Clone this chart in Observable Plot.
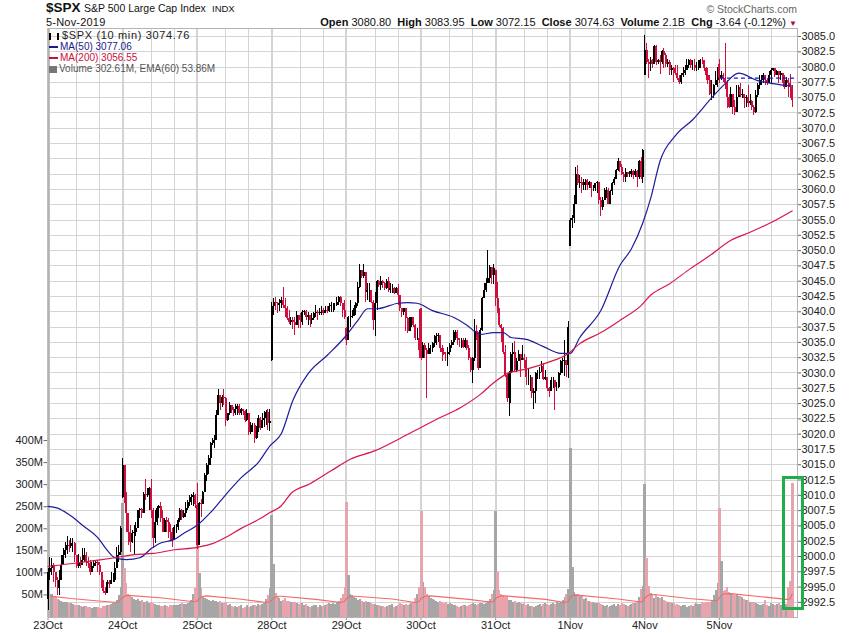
<!DOCTYPE html>
<html><head><meta charset="utf-8">
<script src="https://cdn.jsdelivr.net/npm/d3@7"></script>
<script src="https://cdn.jsdelivr.net/npm/@observablehq/plot@0.6"></script>
<style>
html,body{margin:0;padding:0;background:#fff}
#page{position:relative;width:850px;height:633px;overflow:hidden;font-family:"Liberation Sans",Arial,sans-serif;color:#111}
#head{position:relative;height:26px}
#head span{position:absolute;white-space:nowrap}
#plots{position:relative;width:850px;height:607px}
#plots svg{position:absolute;left:0;top:0}
#legend{position:absolute;left:49px;top:30px;font-size:10px;line-height:11px}
#legend i{display:inline-block;vertical-align:middle}
</style></head><body>
<div id="page">
<div id="head">
<span style="left:46px;top:0px;font-size:13.5px;font-weight:bold">$SPX</span>
<span style="left:84px;top:2px;font-size:10.5px">S&amp;P 500 Large Cap Index</span>
<span style="left:212px;top:3px;font-size:9.5px">INDX</span>
<span style="left:46px;top:16px;font-size:11px;letter-spacing:.2px">5-Nov-2019</span>
<span style="right:53px;top:3px;font-size:10.5px;color:#666">© StockCharts.com</span>
<span style="right:53px;top:16px;font-size:11px"><b>Open</b> 3080.80 &nbsp;<b>High</b> 3083.95 &nbsp;<b>Low</b> 3072.15 &nbsp;<b>Close</b> 3074.63 &nbsp;<b>Volume</b> 2.1B &nbsp;<b>Chg</b> -3.64 (-0.12%) <span style="position:static;color:#a01030;font-size:8px">▼</span></span>
</div>
<div id="plots"></div>
<div id="legend">
<div style="color:#222;font-size:11px;letter-spacing:.65px"><i style="width:10px;height:7px;border-left:2px solid #000;border-right:2px solid #000;box-sizing:border-box;margin-right:3px"></i>$SPX (10 min) 3074.76</div>
<div style="color:#1a1a8c"><i style="width:9px;height:2px;background:#1a1a8c;margin-right:2px"></i>MA(50) 3077.06</div>
<div style="color:#c8103c"><i style="width:9px;height:2px;background:#c8103c;margin-right:2px"></i>MA(200) 3056.55</div>
<div style="color:#555"><i style="width:8px;height:7px;background:#777;margin-right:2px"></i>Volume 302.61M, EMA(60) 53.86M</div>
</div>
</div>
<script>
const dayLabels = ["23Oct","24Oct","25Oct","28Oct","29Oct","30Oct","31Oct","1Nov","4Nov","5Nov"];
const dayOpens = [2993,3009.7,3008.3,3032,3037.2,3040.5,3046.8,3050.6,3078.6,3080.5];
const grayVolumeBars = [234];

const closes = [
[2997.4,2998,2998.5,2997.4,2996.1,2994.7,2996.1,2998.5,3000.2,3001,3001.8,3001.6,3002.1,3002.1,3000.2,2998.3,2999.1,2998.5,2999.3,3000.2,2999.1,2998.8,2997.4,2998.3,2998.8,2999.1,2998.5,2997.4,2995.5,2994.2,2993.9,2995.8,2995.5,2996.1,2996.1,2998,3000.2,3000.7,3004.5],
[3014.9,3010.5,3007,3004,3002.3,3003.7,3004,3004.5,3007.5,3007.7,3007,3010.2,3010,3010,3011.1,3007.5,3002.9,3005.6,3007.8,3008.1,3006.2,3004,3005.9,3005.6,3004.2,3004,3002.6,3004.8,3004.8,3005.9,3007.5,3006.4,3007,3007.8,3008.9,3009.2,3009.7,3010,3008.5],
[3001.8,3008.6,3008.5,3010.4,3013.2,3014.9,3016,3018.4,3018.4,3019,3023,3026.3,3025,3026,3025.8,3022.2,3023.3,3024.7,3023.9,3023.3,3024.1,3024.6,3023.3,3024.1,3023.7,3022.2,3023.3,3020.3,3021.4,3021.4,3019.3,3020.9,3022.5,3020.9,3022.2,3022.5,3023.6,3021.7,3022],
[3040.8,3041.6,3041.3,3041,3041.3,3041.8,3041,3040.5,3038.9,3038.3,3038.6,3038.3,3037.8,3039.4,3038.6,3038.3,3039.9,3040.1,3039.1,3039.4,3038.6,3038.9,3039.7,3039.9,3039.8,3039.9,3040.2,3039.8,3040.2,3040.1,3040.8,3041,3041,3041,3041.6,3042.3,3041.3,3040.2,3039.1],
[3035.3,3039.1,3039.1,3039.2,3040.5,3041.3,3044,3046.8,3045.7,3046.5,3043.2,3043.5,3043.5,3041.6,3038.6,3041.3,3044.9,3044.3,3044.9,3044.6,3043.8,3044.9,3043.5,3043.8,3043.8,3043,3043.8,3042.7,3040.5,3039.9,3040.5,3038.9,3036.7,3037.8,3039.1,3037.8,3035.6,3035.6,3033.7],
[3032.3,3034.5,3033.7,3033.1,3034,3034,3034.2,3034.8,3035.9,3036.1,3034,3033.4,3033.1,3033,3033.4,3034.5,3035,3036.4,3036.6,3035.6,3035.3,3035.3,3034.2,3035.3,3034,3032.3,3030.4,3032.3,3036.7,3036.4,3030.7,3036.9,3042.1,3043.5,3044.6,3045.4,3047.3,3045.9,3047],
[3042.1,3040,3037.8,3037.2,3033.4,3029.6,3025.8,3029.9,3033.1,3033.4,3030.4,3031.8,3033.1,3032,3032.3,3032,3029.3,3029.3,3029.3,3026.6,3026.9,3029.9,3029.9,3030.1,3031,3029,3029.3,3027.4,3026.9,3028.8,3028.8,3027.7,3027.7,3029.9,3031.8,3032,3032,3031.2,3037.5],
[3054.9,3055.2,3057.6,3062.5,3060.9,3061.2,3060.6,3061.2,3061.5,3060.6,3061.2,3060.1,3060.1,3060.9,3061.2,3058.2,3057.1,3058.2,3059.8,3059.8,3057.6,3059.6,3060.9,3061.7,3063.1,3064.5,3063.6,3062.5,3062,3062.8,3062.5,3062.5,3063,3062.3,3063,3062,3064.6,3061.9,3066.4],
[3082.7,3080.8,3080.5,3081.1,3080.5,3083.4,3080.8,3081.1,3080.8,3082.6,3081.9,3080.5,3080.8,3079.4,3079.7,3079.2,3079,3078.1,3077.5,3078.6,3078.9,3079.4,3080.3,3081,3080.3,3080.3,3079.7,3079.7,3079.7,3081.1,3081,3079.7,3078.6,3077.8,3075.6,3075.6,3077,3077.8,3079.4],
[3078.1,3078.6,3078.1,3077.3,3075.1,3073.4,3075.6,3073.4,3072.6,3075.1,3076.7,3075.4,3075.6,3074.8,3075.1,3074,3074.3,3073.4,3072.6,3075.3,3077,3077.8,3077.8,3078.6,3077.8,3077.3,3078.6,3079.4,3079.7,3078.6,3079.2,3078.6,3078.9,3077.8,3076.7,3077.8,3077.3,3076.7,3074.6]
];
const highs = [
[2998,2999.9,2999.6,2998.8,2997.4,2996.6,2997.7,3000.2,3001.3,3002.3,3003.2,3002.6,3002.9,3002.9,3002.3,3000.2,3000.4,2999.9,3001.3,3001.3,3000.7,2999.9,2999.3,2999.1,2999.3,2999.4,2999.3,2999.1,2997.4,2996.1,2995,2996.1,2996.1,2997.4,2997.2,2999.1,3001.5,3001.8,3004.9],
[3016,3011.1,3010.5,3007,3005.1,3004.2,3005.1,3005.5,3007.5,3007.9,3007.8,3010.5,3012.6,3011.1,3011.3,3012.6,3007.8,3007.5,3008.2,3008.3,3008.8,3007.5,3006.2,3006.3,3006.2,3005.3,3004.5,3005.1,3005.2,3006.2,3007.8,3007.7,3007.5,3008.8,3009.2,3010,3010.2,3010.4,3010.2],
[3011.9,3008.9,3009.4,3010.6,3013.5,3015.2,3016.5,3018.7,3019.3,3019.8,3023.9,3027.3,3026.3,3026.3,3027.3,3026,3023.3,3025.1,3024.7,3024.4,3024.8,3024.9,3024.9,3024.2,3024.1,3023.9,3024.1,3022.8,3021.9,3021.7,3021.7,3021.3,3023,3022.8,3023.3,3023.7,3023.9,3024,3024],
[3041.6,3042.1,3042.4,3041.6,3042,3042.3,3043.9,3042.1,3040.8,3040.2,3039.1,3039.1,3039.1,3040.1,3039.4,3039.7,3040.2,3040.2,3040.2,3039.9,3039.4,3039.7,3039.9,3041,3040.2,3040.5,3040.9,3040.5,3040.8,3040.8,3041.3,3041.6,3041.4,3041.3,3042.3,3042.5,3042.5,3041.3,3041.8],
[3037.5,3039.2,3041.8,3040.2,3041,3041.6,3044.8,3047.7,3046.8,3047.7,3046.5,3044.7,3044.6,3043.2,3041.8,3043.2,3045.1,3045.1,3045.8,3045.1,3044.8,3045.2,3045.6,3044.7,3044.5,3043.9,3044,3044.5,3041.3,3040.6,3040.6,3040.5,3039.1,3039.1,3039.1,3038.3,3038,3037.2,3040.3],
[3040.5,3035,3034.8,3034,3034.8,3034.5,3035,3036.1,3036.4,3036.4,3036.2,3034.5,3034,3033.4,3034.2,3034.8,3035.3,3037,3037,3037,3035.7,3035.7,3035.6,3035.6,3035,3034.5,3032.6,3032.6,3038.7,3037.8,3036.6,3037.2,3042.4,3044.6,3045.4,3050,3047.6,3047,3047.8],
[3046.8,3044.8,3040.5,3038,3037.5,3034.5,3029.9,3030.2,3033.4,3034.8,3035.1,3032.3,3033.7,3033.1,3034.5,3033.1,3032.6,3030.7,3029.6,3029.3,3027.4,3030.1,3030.4,3030.9,3031.8,3031.5,3030.4,3029.3,3027.7,3029.3,3029.3,3028.8,3028.5,3030.1,3032,3032.3,3035.3,3032,3038.4],
[3055.2,3055.7,3059,3063.6,3063.9,3062.3,3062,3061.7,3061.7,3061.7,3061.3,3061.2,3060.6,3060.9,3061.3,3061.2,3058.7,3058.7,3060.1,3060.3,3060.1,3059.8,3061.2,3062,3063.2,3065,3064.6,3064.1,3062.8,3063.4,3062.8,3063,3063.2,3063.1,3063.2,3063.1,3064.7,3065.3,3066.5],
[3085.2,3083.8,3081.3,3081.5,3081.3,3083.5,3083.5,3081.3,3081.9,3082.7,3083,3082.2,3081.2,3081.1,3080.3,3080,3080.3,3080.3,3078.6,3078.9,3080,3080.3,3081.3,3081.2,3081.3,3081.1,3081.2,3080.8,3081.1,3081.3,3081.5,3081.1,3080,3079.7,3078.6,3077.8,3077.2,3079.2,3080],
[3081.3,3079.2,3078.9,3083.8,3077.8,3075.6,3076.7,3074.8,3074.5,3077,3077,3077.3,3076.4,3075.3,3075.3,3077,3075.6,3074.5,3073.7,3076.2,3077.3,3078.6,3078.6,3078.9,3078.2,3078.2,3079.2,3079.7,3079.7,3079.7,3079.4,3079.2,3079.2,3078.9,3078.6,3078.3,3078.1,3078.8,3077]
];
const lows = [
[2991.2,2996.1,2996.9,2995.8,2995,2993.6,2993.6,2997.4,2999.3,2999.6,3000.4,3000.7,3001.3,3000.7,2999.1,2998,2998,2998,2998.5,2999.1,2998.3,2998,2996.9,2997.4,2998,2998.3,2997.4,2996.9,2994.7,2993.9,2993.6,2993.9,2994.7,2995.5,2995.8,2995.8,2998.5,2999.1,3000.2],
[3009.5,3008.7,3004,3001.8,3000.7,3002.1,3000.3,3003.2,3004.8,3006.2,3006.2,3007,3009.2,3009.7,3007.5,3006.2,3001.3,3002.1,3005.1,3006.2,3005.6,3004,3004,3004,3002.9,3002.6,3001.5,3002.6,3003.7,3004.2,3005.6,3005.9,3006.2,3006.4,3007.5,3008.1,3008.3,3008.1,3007.8],
[3001.2,3007,3006.4,3008.6,3010.5,3012.2,3013.4,3014.9,3018.1,3017.6,3019.2,3023.9,3023.9,3024.4,3024.7,3021.3,3022.1,3023.1,3023.3,3022.9,3023.1,3023,3023,3023.1,3023.1,3021.9,3022.1,3019.7,3020,3020.3,3018.4,3019.2,3020.3,3020.6,3020.9,3021.1,3021.4,3020.6,3020.4],
[3031.9,3039.4,3040.2,3039.7,3040,3040.5,3040.5,3039.1,3038.6,3037.9,3037.8,3037.1,3036.1,3037.8,3037.2,3037.2,3037.8,3039.4,3038.6,3037.8,3037.4,3038,3038.6,3039.1,3038.6,3039.4,3039.4,3039.4,3039.7,3039.7,3039.9,3039.9,3039.9,3040.2,3040.8,3041,3040.8,3039.1,3038.7],
[3034.5,3035.3,3037.5,3038.9,3039.2,3039.4,3040.8,3043.8,3045.4,3045.4,3041.6,3041.8,3041.6,3041.3,3036.9,3036,3040.2,3044,3043.5,3043.8,3043.5,3043.6,3043.2,3043,3043,3042.8,3043,3041,3040.1,3039.1,3039.4,3036.7,3036.5,3036.7,3037.5,3037.5,3035.3,3035.3,3032.3],
[3032,3032.3,3032.3,3025.8,3033.1,3033.1,3033.4,3034.1,3034.5,3035,3033.4,3031.8,3032.8,3031.8,3031,3032.8,3034,3034.5,3035.3,3034.5,3034.2,3034,3034,3034,3033.7,3032,3030.1,3028.2,3031.8,3035.3,3030.4,3031.2,3036.7,3042.1,3043.2,3044.6,3044.6,3044.4,3044.4],
[3040.8,3039.7,3037.5,3035,3033.1,3029.3,3025.2,3022.9,3025,3030.1,3030.1,3030.1,3032.3,3029.3,3032,3030.7,3028,3027.9,3026.9,3025.8,3024.1,3025,3028.9,3028.9,3030.1,3028.8,3028.8,3026.9,3026,3026.9,3027.4,3023.9,3026.9,3027.4,3029.6,3029.9,3029.5,3029.3,3029.1],
[3050.6,3053.6,3054.4,3057.6,3060.6,3060.1,3059.3,3059.8,3059.8,3059.8,3060.1,3058.7,3059.6,3059.6,3059.3,3057.6,3055.5,3056.6,3058.2,3058.5,3057.5,3057.6,3059,3060.6,3061.6,3063,3062.8,3062.3,3061.2,3061.2,3061.9,3062,3062,3061.6,3061.9,3060.4,3061.7,3061.6,3061],
[3078.6,3080.5,3078.2,3079.2,3079.7,3080.5,3080.3,3080.5,3078.8,3080.5,3079.7,3080,3080,3078.6,3078.6,3077.5,3078.6,3077.8,3077.2,3077.2,3078.3,3078.6,3079.4,3079.7,3079.7,3079.4,3079.3,3079.2,3079.5,3079.7,3080.5,3079.3,3077.8,3077.2,3075.3,3074.5,3074.8,3077,3076.7],
[3077.3,3077.8,3077.5,3076.4,3073.3,3073.2,3073.4,3072.3,3072.1,3072.6,3075.1,3075,3074.8,3073.2,3073.4,3073.4,3073.7,3072.9,3072.1,3072.4,3075.1,3076.4,3077,3077.3,3077,3077,3077.3,3077.3,3079.2,3078.3,3078.6,3077.3,3077.8,3077.3,3076.4,3076.6,3075.1,3074.8,3073.4]
];
const volumes = [
[47,50,50,46,44,40,38,35,33,34,32,30,31,28,27,26,27,24,22,23,24,22,22,20,22,21,21,20,19,23,24,26,27,28,30,32,38,49,66],
[258,110,76,52,48,45,40,38,40,36,37,33,32,35,30,33,30,28,26,25,24,23,25,24,22,25,26,25,27,26,28,30,28,29,31,33,38,50,64],
[231,98,64,44,42,40,38,36,38,36,36,32,35,30,30,34,26,28,24,22,24,22,24,26,20,22,25,22,24,27,26,24,28,26,28,30,40,48,64],
[231,119,53,45,42,36,38,42,36,36,33,32,34,30,29,31,30,26,28,24,22,24,27,25,22,26,24,24,25,28,30,28,30,28,33,36,42,50,68],
[259,95,52,48,44,42,38,40,36,34,35,32,32,30,28,29,26,27,24,24,22,24,26,25,28,22,24,26,30,28,26,28,26,28,30,34,42,52,66],
[239,78,68,50,46,42,40,38,36,34,36,32,30,33,28,30,28,25,26,24,22,24,26,27,24,26,28,30,28,26,28,30,30,28,30,36,40,50,60],
[239,100,60,52,48,44,46,38,38,34,36,30,32,30,28,30,26,28,24,24,22,24,26,28,24,28,30,28,26,28,30,28,32,30,34,38,44,50,62],
[382,113,56,50,52,46,48,40,42,36,36,32,34,30,30,30,28,26,24,26,22,24,26,28,24,28,26,30,28,26,24,26,28,30,30,36,44,62,70],
[300,132,70,53,49,41,49,45,43,45,38,36,34,33,30,30,26,28,26,23,25,26,22,24,26,24,28,30,29,28,32,30,32,34,34,38,48,60,75],
[245,125,58,60,68,56,54,50,48,50,46,46,44,40,38,38,34,32,33,30,28,26,26,28,38,27,24,30,28,27,28,30,27,28,30,28,68,80,302.6]
];
const ma50Idx = [0,5,13,18,26,31,35,41,48,54,58,66,71,78,85,94,101,110,116,122,128,136,146,155,162,167,172,183,188,193,201,212,219,226,233,238,242,250,259,268,273,278,289,299,305,311,315,320,328,337,347,354,361,371,379,389];
const ma50 = [3008.2,3007.9,3006.4,3005.1,3003.1,3001,2999.8,2999.5,2999.8,3001.3,3002.1,3002.8,3003.8,3005.1,3007.2,3010.5,3012.9,3015.4,3018.1,3020.1,3025.5,3029.9,3032.9,3035.8,3038.6,3040.5,3040.5,3041.4,3041.5,3041.4,3040.2,3039.1,3037.8,3036.3,3036.6,3036.6,3035.8,3035.5,3034.3,3033.2,3033.2,3035.8,3040.2,3047.6,3050.3,3054.6,3058.5,3064.7,3068.8,3071.4,3075,3077.3,3079,3077.8,3077.3,3076.9];
const ma200Idx = [0,14,26,35,45,55,66,78,86,94,101,111,116,122,127,137,148,158,171,184,195,203,216,226,233,240,251,261,272,278,289,299,310,315,325,336,346,357,367,378,389];
const ma200 = [2998.4,2998.9,2999.4,2999.8,3000.3,3000.5,3001.1,3001.5,3002.1,3003.3,3004.6,3006.2,3007.2,3008.3,3010.3,3011.9,3014,3015.9,3017.3,3019.3,3021.1,3022.4,3024.4,3026.5,3028.4,3029.9,3030.7,3031.7,3033.2,3034.8,3036.6,3038.6,3041,3042.7,3044.6,3047.1,3049.2,3051.7,3053,3054.6,3056.5];
const emaIdx = [0,12,25,36,37,38,39,40,42,60,75,77,78,79,81,83,100,114,116,117,118,120,122,140,153,155,156,158,161,180,192,194,195,197,200,220,231,233,234,236,239,260,270,272,273,275,278,298,310,311,312,314,317,335,349,350,351,353,357,375,386,388,389];
const ema = [48,42,37,33,35,40,43,47,49,43,35,35,36,42,47,48,41,33,35,38,43,47,47,40,33,35,42,47,47,41,33,35,42,47,48,40,34,35,42,47,48,40,33,35,45,50,49,41,34,36,43,50,51,42,37,38,44,52,53,45,40,41,52];
const priceTicks = d3.range(2992.5, 3085.1, 2.5);
const volTicks = [50,100,150,200,250,300,350,400];
const prevClose = [3078.2];
const prevCloseSpan = [351.5, 391.8];
const highlight = {x1:384.5, x2:394.9, y1:2991.5, y2:3012.9};

const barsPerDay = 39, priceDomain = [2990.03,3086.31], volDomain = [-1.1,1334], xDomain = [0,391.8];
const dayStarts = dayLabels.map((_, d) => d * barsPerDay);
const minorGrid = dayStarts.flatMap(s => [s + 15, s + 27]);

const bars = [];
closes.forEach((day, d) => day.forEach((c, k) => {
  const i = d * barsPerDay + k;
  const o = k === 0 ? dayOpens[d] : day[k - 1];
  const dir = c >= o ? "up" : "down";
  bars.push({i, open:o, close:c, high:highs[d][k], low:lows[d][k], volume:volumes[d][k], dir, volDir:grayVolumeBars.includes(i) ? "up" : dir});
}));
const lineOf = (ix, v) => ix.map((i, k) => ({i, v:v[k]}));

const common = {
  width:850, height:607, marginLeft:47.5, marginRight:53, marginTop:2, marginBottom:16,
  style:{background:"transparent", fontFamily:"'Liberation Sans',Arial,sans-serif", fontSize:"11px", color:"#222"},
};
const crisp = {shapeRendering:"crispEdges"};
const gridColor = "#d4d4d4";

const gridLayer = Plot.plot({
  ...common,
  x:{domain:xDomain, axis:null, label:null},
  y:{domain:priceDomain, axis:null, label:null},
  marks:[
    Plot.ruleY(priceTicks, {stroke:gridColor, strokeWidth:1, ...crisp}),
    Plot.ruleX(minorGrid, {stroke:gridColor, strokeWidth:1, ...crisp}),
    Plot.ruleX(dayStarts, {stroke:gridColor, strokeWidth:2, ...crisp})
  ]
});

const volumeLayer = Plot.plot({
  ...common,
  x:{domain:xDomain, label:null},
  y:{domain:volDomain, label:null},
  color:{domain:["up","down"], range:["#a6a6a6","#e8a3ac"]},
  marks:[
    Plot.ruleX(bars, {x:"i", y1:0, y2:"volume", stroke:"volDir", strokeWidth:2, ...crisp}),
    Plot.ruleX(bars, {filter:d => d.volume > 90, x:"i", y1:0, y2:"volume", stroke:"volDir", strokeWidth:3, ...crisp}),
    Plot.line(lineOf(emaIdx, ema), {x:"i", y:"v", stroke:"#f26a6a", strokeWidth:1.1}),
    Plot.axisX(dayStarts, {anchor:"bottom", label:null, tickSize:3, tickPadding:1, stroke:"#999", tickFormat:d => dayLabels[d / barsPerDay]}),
    Plot.axisY(volTicks, {anchor:"left", label:null, tickSize:4, tickPadding:1, stroke:"#666", tickFormat:d => d + "M"})
  ]
});

const priceLayer = Plot.plot({
  ...common,
  x:{domain:xDomain, axis:null, label:null},
  y:{domain:priceDomain, label:null},
  color:{domain:["up","down"], range:["#000000","#cf0f3c"]},
  marks:[
    Plot.ruleX(xDomain.slice(0,1), {stroke:"#bdbdbd", strokeWidth:3, ...crisp}),
    Plot.frame({stroke:"#b4b4b4", strokeWidth:1, ...crisp}),
    Plot.ruleX(bars, {x:"i", y1:"low", y2:"high", stroke:"dir", strokeWidth:1, ...crisp}),
    Plot.ruleX(bars, {x:"i", y1:"open", y2:"close", stroke:"dir", strokeWidth:2, ...crisp}),
    Plot.line(lineOf(ma50Idx, ma50), {x:"i", y:"v", stroke:"#1c1c9c", strokeWidth:1.2, curve:"monotone-x"}),
    Plot.line(lineOf(ma200Idx, ma200), {x:"i", y:"v", stroke:"#d8174a", strokeWidth:1.2, curve:"monotone-x"}),
    Plot.ruleY(prevClose, {x1:prevCloseSpan[0], x2:prevCloseSpan[1], stroke:"#1414e0", strokeWidth:1.2, strokeDasharray:"4,3"}),
    Plot.axisY(priceTicks, {anchor:"right", label:null, tickSize:3, tickPadding:1, stroke:"#666", tickFormat:d => d.toFixed(1)}),
    Plot.rect([highlight], {x1:"x1", x2:"x2", y1:"y1", y2:"y2", fill:"none", stroke:"#1fae4b", strokeWidth:3, ...crisp})
  ]
});
document.getElementById("plots").append(gridLayer, volumeLayer, priceLayer);
</script>
</body></html>
